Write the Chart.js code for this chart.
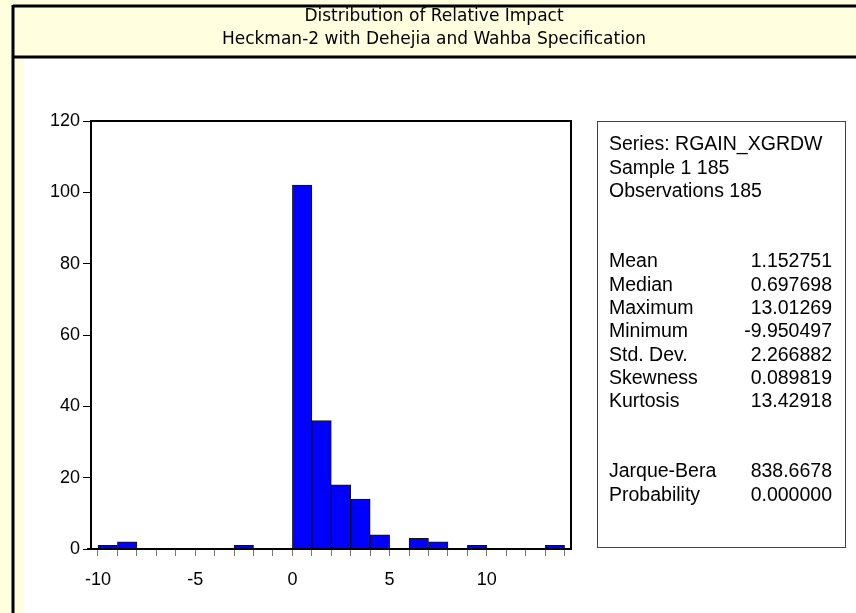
<!DOCTYPE html>
<html>
<head>
<meta charset="utf-8">
<script src="https://cdn.jsdelivr.net/npm/chart.js@4.4.1/dist/chart.umd.min.js"></script>
<style>
html, body { margin: 0; padding: 0; background: #fff; }
#wrap { width: 856px; height: 613px; position: relative; }
</style>
</head>
<body>
<div id="wrap"><canvas id="hist"></canvas></div>
<script>
// histogram bins: width 1, start values
const binStarts = [-10, -9, -8, -7, -6, -5, -4, -3, -2, -1, 0, 1, 2, 3, 4, 5, 6, 7, 8, 9, 10, 11, 12, 13];
const counts = [1, 2, 0, 0, 0, 0, 0, 1, 0, 0, 102, 36, 18, 14, 4, 0, 3, 2, 0, 1, 0, 0, 0, 1];
const yTicks = [0, 20, 40, 60, 80, 100, 120];
const xLabels = [-10, -5, 0, 5, 10];

const titleLines = ['Distribution of Relative Impact', 'Heckman-2 with Dehejia and Wahba Specification'];
const statsHeader = ['Series: RGAIN_XGRDW', 'Sample 1 185', 'Observations 185'];
const statNames = ['Mean', 'Median', 'Maximum', 'Minimum', 'Std. Dev.', 'Skewness', 'Kurtosis'];
const statValues = ['1.152751', '0.697698', '13.01269', '-9.950497', '2.266882', '0.089819', '13.42918'];
const testNames = ['Jarque-Bera', 'Probability'];
const testValues = ['838.6678', '0.000000'];

const YELLOW = '#ffffe0';
const FAMILY = '"Liberation Sans", Arial, sans-serif';

// background, header and frame
const decor = {
    id: 'decor',
    beforeDraw(chart) {
        const c = chart.ctx;
        const w = chart.width, h = chart.height;
        c.save();
        c.fillStyle = '#fff';
        c.fillRect(0, 0, w, h);
        c.fillStyle = YELLOW;
        c.fillRect(0, 0, 24, h);
        c.fillRect(0, 0, w, 57);
        c.strokeStyle = '#000';
        c.lineWidth = 3;
        c.beginPath();
        c.moveTo(13, 5); c.lineTo(13, h);
        c.moveTo(13, 6); c.lineTo(w, 6);
        c.moveTo(13, 57); c.lineTo(w, 57);
        c.stroke();

        c.fillStyle = '#000';
        c.font = '17px "Comic Sans MS", "DejaVu Sans", sans-serif';
        c.textAlign = 'center';
        c.textBaseline = 'middle';
        c.fillText(titleLines[0], 434, 17);
        c.fillText(titleLines[1], 434, 40);
        c.restore();
    },
    afterDraw(chart) {
        const c = chart.ctx;
        const a = chart.chartArea;
        c.save();
        c.strokeStyle = '#000';
        c.lineWidth = 2;
        c.strokeRect(a.left, a.top, a.right - a.left, a.bottom - a.top);
        c.beginPath();
        c.moveTo(a.left - 4, a.bottom); c.lineTo(a.left, a.bottom);
        c.stroke();

        // stats box
        const bx = 597, by = 121, bw = 248, bh = 426;
        c.lineWidth = 1;
        c.strokeStyle = '#444';
        c.strokeRect(bx + 0.5, by + 0.5, bw, bh);
        c.fillStyle = '#000';
        c.font = '19.5px ' + FAMILY;
        c.textBaseline = 'middle';
        const lh = 23.3;
        let y = 145;
        statsHeader.forEach((t, i) => {
            c.textAlign = 'left';
            c.fillText(t, 609, y + i * lh);
        });
        y = 262;
        statNames.forEach((t, i) => {
            c.textAlign = 'left';
            c.fillText(t, 609, y + i * lh);
            c.textAlign = 'right';
            c.fillText(statValues[i], 832, y + i * lh);
        });
        y = 472;
        testNames.forEach((t, i) => {
            c.textAlign = 'left';
            c.fillText(t, 609, y + i * lh);
            c.textAlign = 'right';
            c.fillText(testValues[i], 832, y + i * lh);
        });
        c.restore();
    }
};

const ctx = document.getElementById('hist').getContext('2d');

const chart = new Chart(ctx, {
    type: 'bar',
    data: {
        datasets: [{
            data: binStarts.map((s, i) => ({ x: s + 0.5, y: counts[i] })),
            backgroundColor: '#0000ff',
            borderColor: '#111',
            borderWidth: 1,
            borderSkipped: 'bottom',
            barPercentage: 1,
            categoryPercentage: 1
        }]
    },
    options: {
        responsive: true,
        maintainAspectRatio: false,
        animation: false,
        layout: { padding: { top: 121, right: 285, bottom: 0, left: 0 } },
        plugins: {
            legend: { display: false },
            title: { display: false },
            tooltip: { enabled: false }
        },
        scales: {
            x: {
                type: 'linear',
                offset: false,
                min: -10.36,
                max: 14.33,
                grid: { offset: false, drawOnChartArea: false, drawTicks: true, tickLength: 7, color: '#777' },
                border: { display: false },
                afterFit(scale) { scale.height = 613 - 549; },
                ticks: {
                    stepSize: 1,
                    includeBounds: false,
                    autoSkip: false,
                    maxRotation: 0,
                    padding: 13,
                    color: '#000',
                    font: { family: FAMILY, size: 18 },
                    callback: v => xLabels.includes(v) ? String(v) : ''
                }
            },
            y: {
                min: 0,
                max: 120,
                grid: { drawOnChartArea: false, drawTicks: true, tickLength: 8, color: '#000' },
                border: { display: false },
                afterFit(scale) { scale.width = 91; },
                afterBuildTicks(scale) { scale.ticks = yTicks.map(v => ({ value: v })); },
                ticks: {
                    padding: 3,
                    color: '#000',
                    font: { family: FAMILY, size: 18 }
                }
            }
        }
    },
    plugins: [decor]
});
</script>
</body>
</html>
